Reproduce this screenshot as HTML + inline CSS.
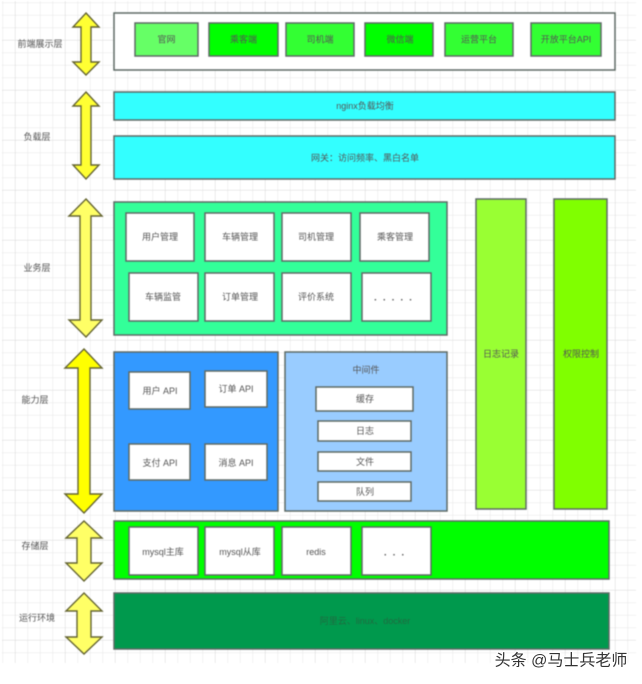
<!DOCTYPE html>
<html>
<head>
<meta charset="utf-8">
<style>
html,body{margin:0;padding:0;background:#fff;width:642px;height:684px;overflow:hidden}
svg{display:block;position:absolute;left:0;top:0}
#d{filter:blur(.45px)}
text{font-family:"Liberation Sans","Noto Sans CJK SC",sans-serif;font-size:9px;fill:#555;text-anchor:middle;dominant-baseline:central}
.b{stroke:#5f6b66;stroke-width:1.5}
.w{fill:#fff}
.a{stroke:#666633;stroke-width:1.4;stroke-linejoin:miter}
.dots{font-size:10px;font-weight:bold;fill:#666}
</style>
</head>
<body>
<svg id="d" width="642" height="684" viewBox="0 0 642 684" xmlns="http://www.w3.org/2000/svg">
<defs>
<pattern id="minor" x="2.5" y="2.5" width="12.5" height="12.5" patternUnits="userSpaceOnUse">
<path d="M0 0H12.5M0 0V12.5" fill="none" stroke="#e6e6e6" stroke-width="1"/>
</pattern>
<pattern id="major" x="15" y="40" width="50" height="50" patternUnits="userSpaceOnUse">
<path d="M0 0H50M0 0V50" fill="none" stroke="#d8d8d8" stroke-width="1"/>
</pattern>
</defs>
<rect x="2" y="1" width="634" height="662" fill="#fff"/>
<rect x="2" y="1" width="634" height="662" fill="url(#minor)"/>
<rect x="2" y="1" width="634" height="662" fill="url(#major)"/>

<!-- Arrows -->
<path class="a" fill="#ffff33" d="M86 13L99 27H91V62H99L86 75L73 62H81V27H73Z"/>
<path class="a" fill="#ffff33" d="M86 92L99 106H91V165H99L86 179L73 165H81V106H73Z"/>
<path class="a" fill="#ffff66" d="M86 199L102 216H91V320H102L86 337L69 320H80V216H69Z"/>
<path class="a" fill="#ffff00" d="M84 349L102 368H90V494H102L84 513L65 494H78V368H65Z"/>
<path class="a" fill="#ffff66" d="M84 521L102 538H91V563H102L84 581L66 563H77V538H66Z"/>
<path class="a" fill="#ffff66" d="M84 593L102 611H91V637H102L84 654L66 637H77V611H66Z"/>

<!-- Layer labels -->
<text x="40" y="44">前端展示层</text>
<text x="37" y="137">负载层</text>
<text x="37" y="268">业务层</text>
<text x="35" y="400">能力层</text>
<text x="35" y="546">存储层</text>
<text x="37" y="618">运行环境</text>

<!-- Front layer -->
<rect class="b w" x="114" y="13" width="501" height="57"/>
<rect class="b" fill="#66ff66" x="135" y="23" width="63" height="33"/>
<text x="166.500" y="39.500">官网</text>
<rect class="b" fill="#00ff00" x="209" y="23" width="69" height="33"/>
<text x="243.500" y="39.500">乘客端</text>
<rect class="b" fill="#33ff33" x="286" y="23" width="68" height="33"/>
<text x="320" y="39.500">司机端</text>
<rect class="b" fill="#00ff00" x="365" y="23" width="68" height="33"/>
<text x="400" y="39.500">微信端</text>
<rect class="b" fill="#33ff33" x="445" y="23" width="68" height="33"/>
<text x="479" y="39.500">运营平台</text>
<rect class="b" fill="#33ff33" x="531" y="23" width="70" height="33"/>
<text x="566" y="39.500">开放平台API</text>

<!-- Load layer -->
<rect class="b" fill="#33ffff" x="114" y="92" width="501" height="28"/>
<text x="365" y="106">nginx负载均衡</text>
<rect class="b" fill="#33ffff" x="114" y="136" width="501" height="43"/>
<text x="365" y="158">网关：访问频率、黑白名单</text>

<!-- Business layer -->
<rect class="b" fill="#33ff99" x="114" y="202" width="333" height="133"/>
<rect class="b w" x="126" y="213" width="68" height="48"/>
<text x="160" y="237">用户管理</text>
<rect class="b w" x="205" y="213" width="69" height="48"/>
<text x="240" y="237">车辆管理</text>
<rect class="b w" x="282" y="213" width="69" height="48"/>
<text x="316" y="237">司机管理</text>
<rect class="b w" x="360" y="213" width="69" height="48"/>
<text x="395" y="237">乘客管理</text>
<rect class="b w" x="129" y="273" width="69" height="48"/>
<text x="163" y="297">车辆监管</text>
<rect class="b w" x="205" y="273" width="69" height="48"/>
<text x="240" y="297">订单管理</text>
<rect class="b w" x="282" y="273" width="69" height="48"/>
<text x="316" y="297">评价系统</text>
<rect class="b w" x="362" y="273" width="69" height="48"/>
<text class="dots" x="396" y="298" letter-spacing="6">.....</text>

<!-- Ability layer -->
<rect class="b" fill="#3399ff" x="114" y="352" width="164" height="159"/>
<rect class="b w" x="129" y="372" width="61" height="37"/>
<text x="160" y="391">用户 API</text>
<rect class="b w" x="205" y="371" width="62" height="36"/>
<text x="236" y="389">订单 API</text>
<rect class="b w" x="129" y="444" width="61" height="36"/>
<text x="160" y="463">支付 API</text>
<rect class="b w" x="205" y="444" width="62" height="36"/>
<text x="236" y="463">消息 API</text>

<!-- Middleware -->
<rect class="b" fill="#99ccff" x="285" y="352" width="162" height="159"/>
<text x="366" y="370">中间件</text>
<rect class="b w" x="316" y="387" width="97" height="24"/>
<text x="365" y="399">缓存</text>
<rect class="b w" x="318" y="421" width="93" height="20"/>
<text x="365" y="431">日志</text>
<rect class="b w" x="318" y="452" width="93" height="19"/>
<text x="365" y="462">文件</text>
<rect class="b w" x="318" y="482" width="93" height="19"/>
<text x="365" y="492">队列</text>

<!-- Side bars -->
<rect class="b" fill="#99ff33" x="476" y="199" width="50" height="310"/>
<text x="501" y="354">日志记录</text>
<rect class="b" fill="#80ff00" x="554" y="199" width="53" height="310"/>
<text x="581" y="354">权限控制</text>

<!-- Storage -->
<rect class="b" fill="#00ff00" x="114" y="521" width="495" height="58"/>
<rect class="b w" x="129" y="527" width="69" height="48"/>
<text x="163" y="552">mysql主库</text>
<rect class="b w" x="205" y="527" width="69" height="48"/>
<text x="240" y="552">mysql从库</text>
<rect class="b w" x="282" y="527" width="69" height="48"/>
<text x="316" y="552">redis</text>
<rect class="b w" x="362" y="527" width="69" height="48"/>
<text class="dots" x="397" y="553" letter-spacing="6">...</text>

<!-- Runtime -->
<rect class="b" fill="#00994d" x="114" y="593" width="495" height="56"/>
<text x="365" y="621" style="fill:#1f6b40">阿里云、linux、docker</text>
</svg>
<svg width="642" height="684" viewBox="0 0 642 684" xmlns="http://www.w3.org/2000/svg">
<text x="561" y="661" style="font-size:16px;fill:#333;stroke:#fff;stroke-width:2.5px;paint-order:stroke;filter:blur(.3px)">头条 @马士兵老师</text>
</svg>
</body>
</html>
